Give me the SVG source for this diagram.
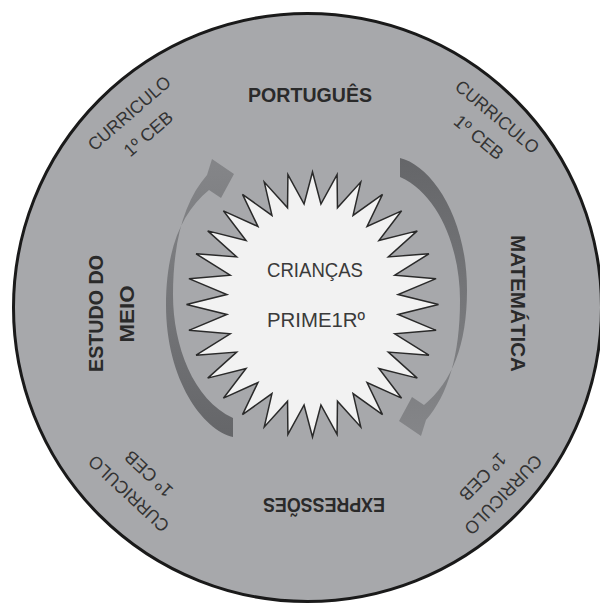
<svg xmlns="http://www.w3.org/2000/svg" width="600" height="605" viewBox="0 0 600 605">
<style>
.lbl{font-family:"Liberation Sans",Arial,sans-serif;font-weight:bold;font-size:20px;fill:#2a2a2a;text-anchor:middle}
.cur{font-family:"Liberation Sans",Arial,sans-serif;font-size:18px;fill:#333;text-anchor:middle}
.ctr{font-family:"Liberation Sans",Arial,sans-serif;font-size:20px;fill:#3a3a3a;text-anchor:middle}
.arrow{fill:url(#ag)}
</style>
<defs>
<linearGradient id="ag" gradientUnits="userSpaceOnUse" x1="400" y1="160" x2="410" y2="430">
<stop offset="0" stop-color="#656669"/>
<stop offset="1" stop-color="#848588"/>
</linearGradient>
</defs>
<rect width="600" height="605" fill="#fff"/>
<g id="ring">
<circle cx="307.5" cy="307.5" r="294" fill="#a7a8ab" stroke="#1a1a1a" stroke-width="3"/>
</g>
<g id="connectors">
<path class="arrow" d="M400,158 C430,165 467,215 467,290 C467,345 452,382 424,405 L412,397 L399,421 L421,436 L426,420 C448,395 460,355 460,300 C460,250 440,195 400,177 Z"/>
<path class="arrow" transform="rotate(180 316.5 297.5)" d="M400,158 C430,165 467,215 467,290 C467,345 452,382 424,405 L412,397 L399,421 L421,436 L426,420 C448,395 460,355 460,300 C460,250 440,195 400,177 Z"/>
</g>
<g id="criancas">
<polygon transform="translate(312.5 304.5)" fill="#f2f2f2" stroke="#2a2a2a" stroke-width="1.5" stroke-linejoin="miter" points="0,-132.5 8.43,-100.51 24.58,-129.95 24.96,-96.65 48.22,-122.41 40.54,-89.07 70,-110.17 54.56,-78.07 89.1,-93.69 66.48,-64.07 104.77,-73.61 75.85,-47.61 116.41,-50.71 82.3,-29.32 123.58,-25.85 85.59,-9.9 126,0 85.59,9.9 123.58,25.85 82.3,29.32 116.41,50.71 75.85,47.61 104.77,73.61 66.48,64.07 89.1,93.69 54.56,78.07 70,110.17 40.54,89.07 48.22,122.41 24.96,96.65 24.58,129.95 8.43,100.51 0,132.5 -8.43,100.51 -24.58,129.95 -24.96,96.65 -48.22,122.41 -40.54,89.07 -70,110.17 -54.56,78.07 -89.1,93.69 -66.48,64.07 -104.77,73.61 -75.85,47.61 -116.41,50.71 -82.3,29.32 -123.58,25.85 -85.59,9.9 -126,0 -85.59,-9.9 -123.58,-25.85 -82.3,-29.32 -116.41,-50.71 -75.85,-47.61 -104.77,-73.61 -66.48,-64.07 -89.1,-93.69 -54.56,-78.07 -70,-110.17 -40.54,-89.07 -48.22,-122.41 -24.96,-96.65 -24.58,-129.95 -8.43,-100.51"/>
<text class="ctr" x="315" y="277" textLength="96" lengthAdjust="spacingAndGlyphs">CRIANÇAS</text>
<text class="ctr" x="316" y="327" textLength="98" lengthAdjust="spacingAndGlyphs">PRIME1Rº</text>
</g>
<g id="portugues">
<text class="lbl" x="310" y="102" textLength="124" lengthAdjust="spacingAndGlyphs">PORTUGUÊS</text>
</g>
<g id="matematica">
<text class="lbl" transform="translate(511 303.5) rotate(90)" x="0" y="0" textLength="137" lengthAdjust="spacingAndGlyphs">MATEMÁTICA</text>
</g>
<g id="estudo-do-meio">
<text class="lbl" transform="translate(103 313.5) rotate(-90)" x="0" y="0" textLength="117" lengthAdjust="spacingAndGlyphs">ESTUDO DO</text>
<text class="lbl" transform="translate(134 314) rotate(-90)" x="0" y="0" textLength="57" lengthAdjust="spacingAndGlyphs">MEIO</text>
</g>
<g id="expressoes">
<text class="lbl" transform="translate(324 498) rotate(180)" x="0" y="0" textLength="122" lengthAdjust="spacingAndGlyphs">EXPRESSÕES</text>
</g>
<g id="curriculo-tl">
<text class="cur" transform="translate(129 113) rotate(-41)" y="6.5" textLength="103" lengthAdjust="spacingAndGlyphs">CURRICULO</text>
<text class="cur" transform="translate(148 133.5) rotate(-41)" y="6.5">1º CEB</text>
</g>
<g id="curriculo-tr">
<text class="cur" transform="translate(497.5 116.5) rotate(40)" y="6.5" textLength="103" lengthAdjust="spacingAndGlyphs">CURRICULO</text>
<text class="cur" transform="translate(479 137) rotate(40)" y="6.5">1º CEB</text>
</g>
<g id="curriculo-bl">
<text class="cur" transform="translate(128.5 494) rotate(-137)" y="6.5" textLength="103" lengthAdjust="spacingAndGlyphs">CURRICULO</text>
<text class="cur" transform="translate(148.5 474) rotate(-137)" y="6.5">1º CEB</text>
</g>
<g id="curriculo-br">
<text class="cur" transform="translate(503.5 495) rotate(134)" y="6.5" textLength="103" lengthAdjust="spacingAndGlyphs">CURRICULO</text>
<text class="cur" transform="translate(483 477) rotate(134)" y="6.5">1º CEB</text>
</g>
</svg>
